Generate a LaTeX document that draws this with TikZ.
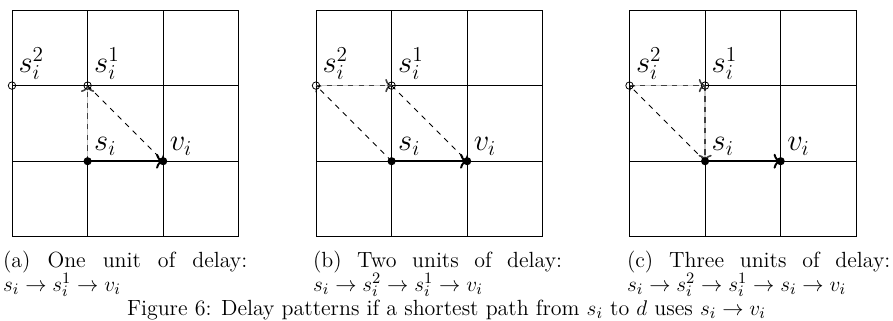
\documentclass[tikz,border=0pt]{standalone}
\usetikzlibrary{arrows.meta}
\begin{document}
\begin{tikzpicture}[x=0.5646pt,y=-0.5646pt,
  gridline/.style={line width=0.5pt},
  opendot/.style={draw,line width=0.45pt},
  dasharrow/.style={dashed,line width=0.5pt,-To},
  gridarrow/.style={dashed,line width=0.9pt,black!75,-To,
    preaction={draw,solid,line width=0.9pt,black!22,-}},
  mainarrow/.style={line width=1.1pt,-To},
  lbl/.style={font=\LARGE,anchor=south west,inner sep=0pt,xshift=3.5pt,yshift=3pt},
  capline/.style={anchor=base west,inner sep=0pt,font=\fontsize{12.4}{15}\selectfont},
]
\useasboundingbox (0,0) rectangle (893,320);

% grids and points
\foreach \p/\xo in {a/12,b/316,c/629.5} {
  \foreach \k in {0,1,2,3} {
    \draw[gridline] (\xo+75.6*\k,10) -- (\xo+75.6*\k,236.8);
    \draw[gridline] (\xo,10+75.6*\k) -- (\xo+226.8,10+75.6*\k);
  }
  \coordinate (\p s2) at (\xo,85.6);
  \coordinate (\p s1) at (\xo+75.6,85.6);
  \coordinate (\p si) at (\xo+75.6,161.2);
  \coordinate (\p vi) at (\xo+151.2,161.2);
}

% (a)
\draw[gridarrow] (asi) -- (as1);
\draw[dasharrow] (as1) -- (avi);
\draw[mainarrow] (asi) -- (avi);
% (b)
\draw[dasharrow] (bsi) -- (bs2);
\draw[gridarrow] (bs2) -- (bs1);
\draw[dasharrow] (bs1) -- (bvi);
\draw[mainarrow] (bsi) -- (bvi);
% (c)
\draw[dasharrow] (csi) -- (cs2);
\draw[gridarrow] (cs2) -- (cs1);
\draw[gridarrow] (cs1) -- (csi);
\draw[mainarrow] (csi) -- (cvi);

% dots and labels
\foreach \p in {a,b,c} {
  \draw[opendot] (\p s2) circle[radius=2.1pt];
  \draw[opendot] (\p s1) circle[radius=2.1pt];
  \fill (\p si) circle[radius=2.3pt];
  \fill (\p vi) circle[radius=2.3pt];
  \node[lbl] (\p s2l) at (\p s2) {$s_i^2$};
  \node[lbl] (\p s1l) at (\p s1) {$s_i^1$};
  \node[lbl] (\p sil) at (\p si) {$s_i$};
  \node[lbl] (\p vil) at (\p vi) {$v_i$};
}

% sub-captions
\node[capline] (capa1) at (2.7,267) {\makebox[137.9pt][s]{(a) One unit of delay:}};
\node[capline] (capa2) at (2.7,291) {$s_i \to s_i^1 \to v_i$};
\node[capline] (capb1) at (312.7,267) {\makebox[140.6pt][s]{(b) Two units of delay:}};
\node[capline] (capb2) at (312.7,291) {$s_i \to s_i^2 \to s_i^1 \to v_i$};
\node[capline] (capc1) at (626.7,267) {\makebox[148.7pt][s]{(c) Three units of delay:}};
\node[capline] (capc2) at (626.7,291) {$s_i \to s_i^2 \to s_i^1 \to s_i \to v_i$};

% main caption
\node[capline,anchor=base] (cap) at (446.5,315.5) {Figure 6: Delay patterns if a shortest path from $s_i$ to $d$ uses $s_i \to v_i$};
\end{tikzpicture}
\end{document}
